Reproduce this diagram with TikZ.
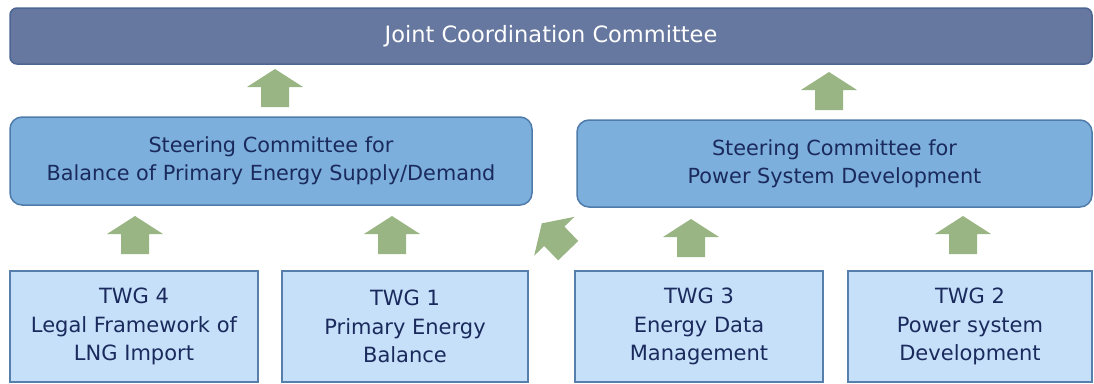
\documentclass[tikz,border=0pt]{standalone}
\usepackage{fontspec}
\setmainfont{DejaVu Sans}
\definecolor{jccfill}{HTML}{66789F}
\definecolor{jccdraw}{HTML}{4C6592}
\definecolor{scfill}{HTML}{7DAFDD}
\definecolor{scdraw}{HTML}{4E7BAA}
\definecolor{twgfill}{HTML}{C6E0FA}
\definecolor{twgdraw}{HTML}{5680AB}
\definecolor{navy}{HTML}{1A2A5C}
\definecolor{arrgreen}{HTML}{9AB584}
\tikzset{
  x=1pt, y=-1pt,
  jccbox/.style={draw=jccdraw, fill=jccfill, line width=1.5pt, rounded corners=7pt,
    text=white, font=\fontsize{22.5}{26}\selectfont, inner sep=0pt, align=center},
  scbox/.style={draw=scdraw, fill=scfill, line width=1.5pt, rounded corners=12pt,
    text=navy, font=\fontsize{20.8}{28}\selectfont, inner sep=0pt, align=center},
  twgbox/.style={draw=twgdraw, fill=twgfill, line width=1.5pt,
    text=navy, font=\fontsize{21}{28.5}\selectfont, inner sep=0pt, align=center},
  uparrow/.pic={\fill[arrgreen] (0,-19) -- (28,-1) -- (14,-1) -- (14,19) -- (-14,19) -- (-14,-1) -- (-28,-1) -- cycle;}
}
\begin{document}
\begin{tikzpicture}
\useasboundingbox (0,0) rectangle (1094,383);
\node[jccbox, minimum width=1082pt, minimum height=56pt] (jcc) at (551,36) {Joint Coordination Committee};
\node[scbox, minimum width=522pt, minimum height=88pt] (sc1) at (271,161)
  {Steering Committee for\\Balance of Primary Energy Supply/Demand};
\node[scbox, minimum width=515pt, minimum height=87pt] (sc2) at (834.5,163.5)
  {Steering Committee for\\Power System Development};
\node[twgbox, minimum width=248pt, minimum height=111pt] (twg4) at (134,326.5)
  {TWG 4\\Legal Framework of\\LNG Import};
\node[twgbox, minimum width=246pt, minimum height=111pt] (twg1) at (405,326.5)
  {TWG 1\\Primary Energy\\Balance};
\node[twgbox, minimum width=248pt, minimum height=111pt] (twg3) at (699,326.5)
  {TWG 3\\Energy Data\\Management};
\node[twgbox, minimum width=244pt, minimum height=111pt] (twg2) at (970,326.5)
  {TWG 2\\Power system\\Development};
\pic at (275,88) {uparrow};
\pic at (829,91) {uparrow};
\pic at (135,235) {uparrow};
\pic at (392,235) {uparrow};
\pic at (691,238) {uparrow};
\pic at (963,235) {uparrow};
\pic[rotate=44] at (555,237) {uparrow};
\end{tikzpicture}
\end{document}
